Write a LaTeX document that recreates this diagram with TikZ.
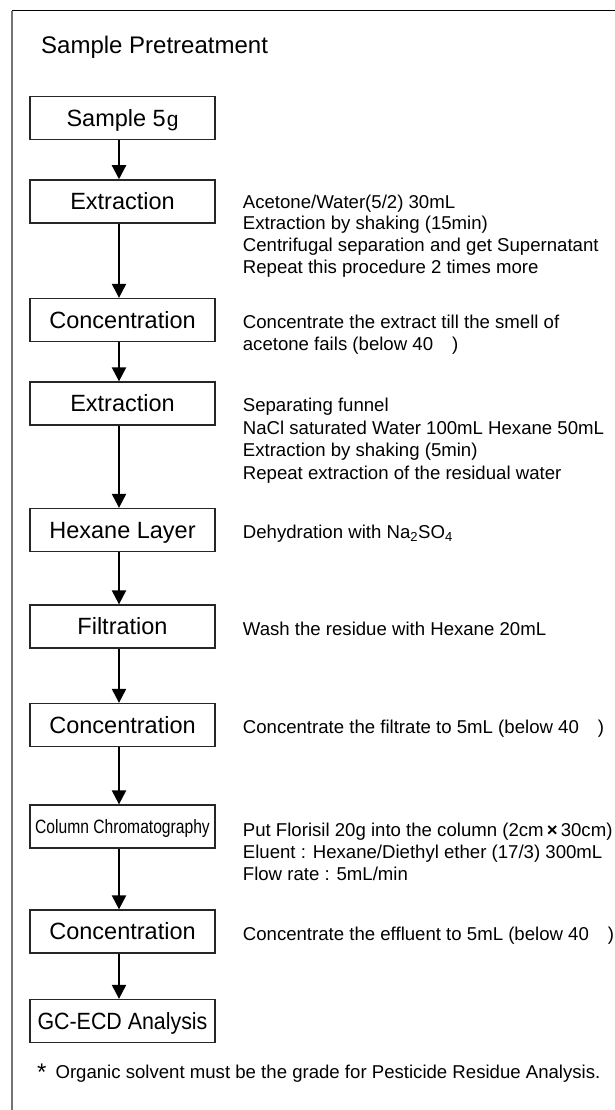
\documentclass[tikz,border=0pt]{standalone}
\usepackage{fontspec}
\setmainfont{Liberation Sans}
\usetikzlibrary{arrows.meta}
\newcommand{\boxfont}{\fontsize{23.5}{28}\selectfont}
\newcommand{\sidefont}{\fontsize{18.6}{22}\selectfont}
\newcommand{\gap}{\hspace{19pt}}
\tikzset{
  stepbox/.style={draw=black!85, line width=1.3pt, minimum width=185pt, minimum height=43pt,
    inner sep=0pt, font=\boxfont, text height=16.6pt, text depth=0pt},
  sidetext/.style={anchor=base west, inner sep=0pt, font=\sidefont},
  flowarrow/.style={line width=2.2pt, -{Triangle[length=14pt,width=14pt]}},
}
\begin{document}
\begin{tikzpicture}[x=1pt,y=-1pt]
\useasboundingbox (0,0) rectangle (615,1110);
% frame
\coordinate (fc) at (11.7,10.7);
\coordinate (fr) at (615,10.7);
\coordinate (fb) at (11.7,1110);
\draw[black, line width=1.2pt] (fc) -- (fr);
\draw[black!55, line width=1.6pt] (fc) -- (fb);
% title
\node[anchor=base west, inner sep=0pt, font=\fontsize{24}{28}\selectfont] (title) at (41,54) {Sample Pretreatment};
% boxes
\node[stepbox] (b1) at (122.5,118) {Sample 5\hspace{1pt}{\fontsize{21}{21}\selectfont g}};
\node[stepbox] (b2) at (122.5,201.4) {Extraction};
\node[stepbox] (b3) at (122.5,320) {Concentration};
\node[stepbox] (b4) at (122.5,403.5) {Extraction};
\node[stepbox] (b5) at (122.5,530) {Hexane Layer};
\node[stepbox] (b6) at (122.5,626.5) {Filtration};
\node[stepbox] (b7) at (122.5,725) {Concentration};
\node[stepbox, text height=13.8pt] (b8) at (122.5,826.5) {\fontsize{19.3}{23}\selectfont\scalebox{0.81}[1]{Column Chromatography}};
\node[stepbox] (b9) at (122.5,931.5) {Concentration};
\node[stepbox] (b10) at (122.5,1021) {\scalebox{0.91}[1]{GC-ECD Analysis}};
% arrows
\foreach \a/\b in {b1/b2,b2/b3,b3/b4,b4/b5,b5/b6,b6/b7,b7/b8,b8/b9,b9/b10}
  \draw[flowarrow] ([xshift=-3.5pt]\a.south) -- ([xshift=-3.5pt]\b.north);
% side texts
\node[sidetext] (t2a) at (242.7,208) {Acetone/Water(5/2) 30mL};
\node[sidetext] (t2b) at (242.7,229.7) {Extraction by shaking (15min)};
\node[sidetext] (t2c) at (242.7,251.4) {Centrifugal separation and get Supernatant};
\node[sidetext] (t2d) at (242.7,273.1) {Repeat this procedure 2 times more};
\node[sidetext] (t3a) at (242.7,328) {Concentrate the extract till the smell of};
\node[sidetext] (t3b) at (242.7,350.2) {acetone fails (below 40\gap)};
\node[sidetext] (t4a) at (242.7,411.5) {Separating funnel};
\node[sidetext] (t4b) at (242.7,434) {NaCl saturated Water 100mL Hexane 50mL};
\node[sidetext] (t4c) at (242.7,456.5) {Extraction by shaking (5min)};
\node[sidetext] (t4d) at (242.7,479) {Repeat extraction of the residual water};
\node[sidetext] (t5) at (242.7,538) {Dehydration with Na\textsubscript{2}SO\textsubscript{4}};
\node[sidetext] (t6) at (242.7,635) {Wash the residue with Hexane 20mL};
\node[sidetext] (t7) at (242.7,733) {Concentrate the filtrate to 5mL (below 40\gap)};
\node[sidetext] (t8a) at (242.7,836.5) {Put Florisil 20g into the column (2cm\,\textbf{×}\,30cm)};
\node[sidetext] (t8b) at (242.7,858.5) {Eluent : Hexane/Diethyl ether (17/3) 300mL};
\node[sidetext] (t8c) at (242.7,880.5) {Flow rate : 5mL/min};
\node[sidetext] (t9) at (242.7,940) {Concentrate the effluent to 5mL (below 40\gap)};
% footnote
\node[sidetext] (note) at (37,1078) {\raisebox{-2pt}{\fontsize{24}{24}\selectfont *}\hspace{9pt}Organic solvent must be the grade for Pesticide Residue Analysis.};
\end{tikzpicture}
\end{document}
